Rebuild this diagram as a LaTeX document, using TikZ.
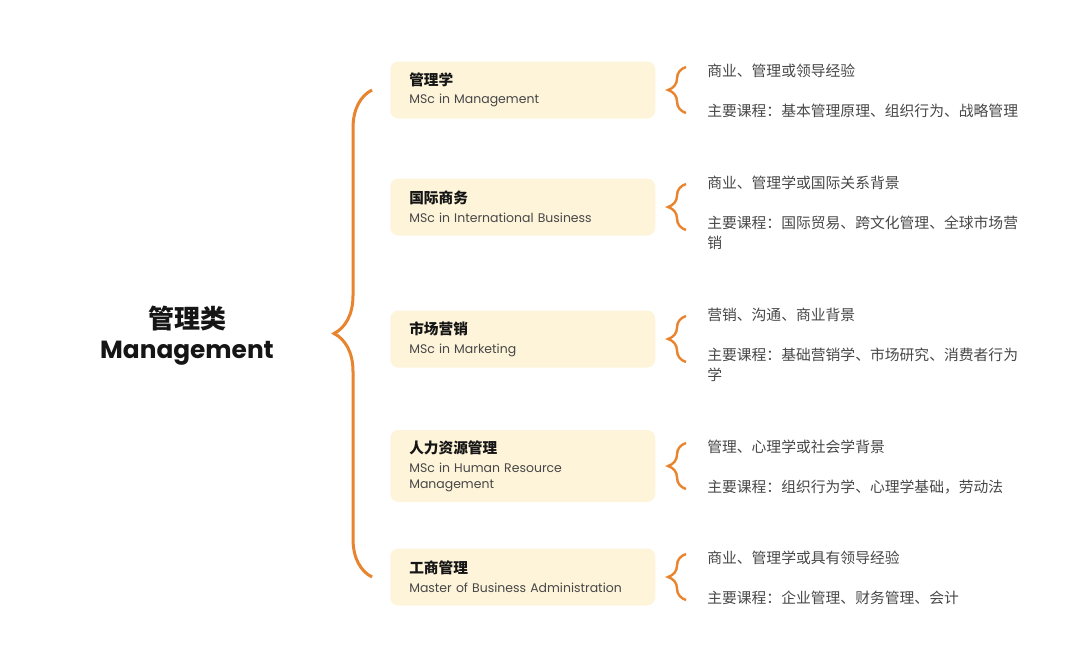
\documentclass[tikz,border=0pt]{standalone}
\usepackage{fontspec}
\setmainfont{Poppins}
\newfontfamily\cjk{Noto Sans CJK SC}
\usepackage{xcolor}
\usepackage{tikz}
\usetikzlibrary{decorations.pathreplacing}
\definecolor{Orng}{HTML}{E8832E}
\definecolor{Cream}{HTML}{FEF4DA}
\definecolor{Ink}{HTML}{151515}
\definecolor{Grey}{HTML}{474747}

\begin{document}
\begin{tikzpicture}[x=0.75pt,y=-0.75pt]
\tikzstyle{cat}=[align=center,text=Ink,font=\bfseries\fontsize{18.6}{22.5}\selectfont]
\tikzstyle{prog}=[fill=Cream,rounded corners=6pt,anchor=west,align=left,inner xsep=14.25pt,text width=170.25pt,minimum height=42.75pt,text=Grey,font=\fontsize{9.35}{12}\selectfont]
\tikzstyle{req}=[anchor=west,align=left,inner sep=0pt,text=Grey,font=\cjk\fontsize{11.1}{15}\selectfont]
\tikzstyle{bbrace}=[draw=Orng,line width=2.25pt,decorate,decoration={brace,amplitude=28.5pt}]
\tikzstyle{sbrace}=[draw=Orng,line width=1.8pt,decorate,decoration={brace,amplitude=13.5pt}]
\newcommand{\ttl}[1]{{\cjk\bfseries\fontsize{11}{13}\selectfont\color{Ink}#1}}

\useasboundingbox (0,0) rectangle (1080,650);

\node[cat](mgmt) at (187,336){{\cjk\fontsize{19.5}{22.5}\selectfont 管理类}\\Management};
%
\node[prog](p1) at (390,90){\ttl{管理学}\\[2pt]MSc in Management};
\node[prog](p2) at (390,207){\ttl{国际商务}\\[2pt]MSc in International Business};
\node[prog](p3) at (390,339){\ttl{市场营销}\\[2pt]MSc in Marketing};
\node[prog,minimum height=54pt](p4) at (390,466){\ttl{人力资源管理}\\[2pt]MSc in Human Resource\\Management};
\node[prog](p5) at (390,577){\ttl{工商管理}\\[2pt]Master of Business Administration};
%
\draw[bbrace] (372,577) -- (372,90);
%
\draw[sbrace] (686,113) -- (686,67);
\draw[sbrace] (686,230) -- (686,184);
\draw[sbrace] (686,362) -- (686,316);
\draw[sbrace] (686,489) -- (686,443);
\draw[sbrace] (686,600) -- (686,554);
%
\node[req](r1) at (707,91){商业、管理或领导经验\\[15pt]主要课程：基本管理原理、组织行为、战略管理};
\node[req](r2) at (707,213){商业、管理学或国际关系背景\\[15pt]主要课程：国际贸易、跨文化管理、全球市场营\\销};
\node[req](r3) at (707,345){营销、沟通、商业背景\\[15pt]主要课程：基础营销学、市场研究、消费者行为\\学};
\node[req](r4) at (707,467){管理、心理学或社会学背景\\[15pt]主要课程：组织行为学、心理学基础，劳动法};
\node[req](r5) at (707,578){商业、管理学或具有领导经验\\[15pt]主要课程：企业管理、财务管理、会计};
\end{tikzpicture}
\end{document}
